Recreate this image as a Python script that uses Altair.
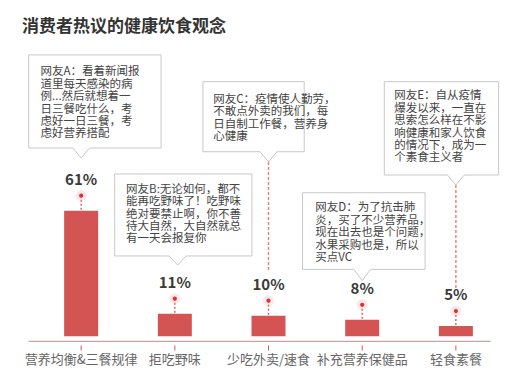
import altair as alt
import pandas as pd

# ---- data ----
title_text = "消费者热议的健康饮食观念"
categories = ["营养均衡&三餐规律", "拒吃野味", "少吃外卖/速食", "补充营养保健品", "轻食素餐"]
values = [61, 11, 10, 8, 5]
comments = [
    "网友A：看着新闻报\n道里每天感染的病\n例...然后就想着一\n日三餐吃什么，考\n虑好一日三餐，考\n虑好营养搭配",
    "网友B:无论如何，都不\n能再吃野味了！吃野味\n绝对要禁止啊，你不善\n待大自然，大自然就总\n有一天会报复你",
    "网友C：疫情使人勤劳，\n不敢点外卖的我们，每\n日自制工作餐，营养身\n心健康",
    "网友D：为了抗击肺\n炎，买了不少营养品，\n现在出去也是个问题，\n水果采购也是，所以\n买点VC",
    "网友E：自从疫情\n爆发以来，一直在\n思索怎么样在不影\n响健康和家人饮食\n的情况下，成为一\n个素食主义者",
]

# ---- layout of the call-out boxes (in category-index / percent units) ----
# left, right, top, bottom, pointer x, pointer tip, text x, text top
callout_layout = [
    (-0.560, 0.853, 136.6, 91.4, 0.0, 86.6, -0.434, 131.0),
    (0.358, 1.823, 78.8, 39.0, 1.03, 34.6, 0.480, 74.0),
    (1.300, 2.381, 123.6, 89.6, 2.0, 84.6, 1.410, 117.6),
    (2.363, 3.671, 69.7, 32.5, 3.0, 27.1, 2.500, 65.0),
    (3.236, 4.456, 123.6, 78.3, 4.0, 73.4, 3.341, 119.4),
]
NOTCH = 0.09
AXIS_V = -2.5
AXIS_SPAN = (-0.56, 4.37)
# long dashed connectors: (category, from, to)
connectors = [(2, 84.6, 32.2), (4, 73.4, 23.4)]

BAR = "#d45453"
XS = alt.Scale(domain=[-0.7274, 4.631], nice=False, zero=False)
YS = alt.Scale(domain=[-14.90, 159.37], nice=False, zero=False)

df = pd.DataFrame({
    "cat": categories,
    "u": list(range(len(categories))),
    "v": values,
    "zero": [0] * len(values),
    "ax": [AXIS_V] * len(values),
    "lab": [f"{v}%" for v in values],
})

outline_rows = []
text_rows = []
for i, (l, r, t, b, p, tip, tx, ty) in enumerate(callout_layout):
    pts = [(l, t), (r, t), (r, b), (p + NOTCH, b), (p, tip), (p - NOTCH, b), (l, b), (l, t)]
    for k, (x, y) in enumerate(pts):
        outline_rows.append({"box": i, "k": k, "x": x, "y": y})
    text_rows.append({"box": i, "x": tx, "y": ty, "txt": comments[i]})
outline = pd.DataFrame(outline_rows)
texts = pd.DataFrame(text_rows)
conn = pd.DataFrame([{"u": c, "y1": a, "y2": b} for c, a, b in connectors])
axis_df = pd.DataFrame({"x1": [AXIS_SPAN[0]], "x2": [AXIS_SPAN[1]], "y": [AXIS_V]})


def X(f):
    return alt.X(f, type="quantitative", scale=XS, axis=None)


def Y(f):
    return alt.Y(f, type="quantitative", scale=YS, axis=None)


base = alt.Chart(df)

bars = base.mark_bar(size=34, color=BAR).encode(x=X("u"), y=Y("v"), y2="zero:Q")

axis_line = alt.Chart(axis_df).mark_rule(color="#c9a3a3", strokeWidth=1.2).encode(
    x=X("x1"), x2="x2:Q", y=Y("y")
)
ticks = base.mark_rule(color="#d9534f", strokeWidth=1, yOffset=4, y2Offset=9).encode(
    x=X("u"), y=Y("ax"), y2="ax:Q"
)
cat_labels = base.mark_text(fontSize=13, color="#666666", yOffset=18.5, font="Noto Sans CJK SC").encode(
    x=X("u"), y=Y("ax"), text="cat:N"
)
stems = base.mark_rule(color="#d9534f", strokeDash=[2, 2], strokeWidth=1.3, yOffset=-15, y2Offset=-1).encode(
    x=X("u"), y=Y("v"), y2="v:Q"
)
glow = base.mark_circle(size=120, color="#f2a5a5", opacity=0.25, yOffset=-15).encode(x=X("u"), y=Y("v"))
dots = base.mark_circle(size=18, color="#d9343a", opacity=1, yOffset=-15).encode(x=X("u"), y=Y("v"))
pct = base.mark_text(fontSize=15, fontWeight="bold", color="#3a3a3a", yOffset=-31, font="Noto Sans CJK SC").encode(
    x=X("u"), y=Y("v"), text="lab:N"
)

connector_lines = alt.Chart(conn).mark_rule(color="#ee7b7b", strokeDash=[3, 2], strokeWidth=1.4).encode(
    x=X("u"), y=Y("y1"), y2="y2:Q"
)

boxes = alt.Chart(outline).mark_line(color="#c8c8c8", strokeWidth=1, strokeJoin="miter").encode(
    x=X("x"), y=Y("y"), detail="box:N", order="k:Q"
)
box_text = alt.Chart(texts).mark_text(
    align="left", baseline="top", fontSize=11.5, lineHeight=12.4, lineBreak="\n",
    color="#444444", font="Noto Sans CJK SC"
).encode(x=X("x"), y=Y("y"), text="txt:N")

title = alt.Chart(pd.DataFrame({"t": [title_text]})).mark_text(
    align="left", baseline="middle", fontSize=17, fontWeight="bold", color="#333333", font="Noto Sans CJK SC"
).encode(x=alt.value(14), y=alt.value(19), text="t:N")

chart = alt.layer(
    axis_line, ticks, bars, stems, glow, dots, pct, cat_labels, connector_lines, boxes, box_text, title
).properties(
    width=512, height=359, autosize=alt.AutoSizeParams(type="none"),
    padding={"left": 0, "top": 0, "right": 0, "bottom": 0}
).configure_view(stroke=None)

chart.save("out.html", embed_options={"renderer": "svg", "actions": False})
